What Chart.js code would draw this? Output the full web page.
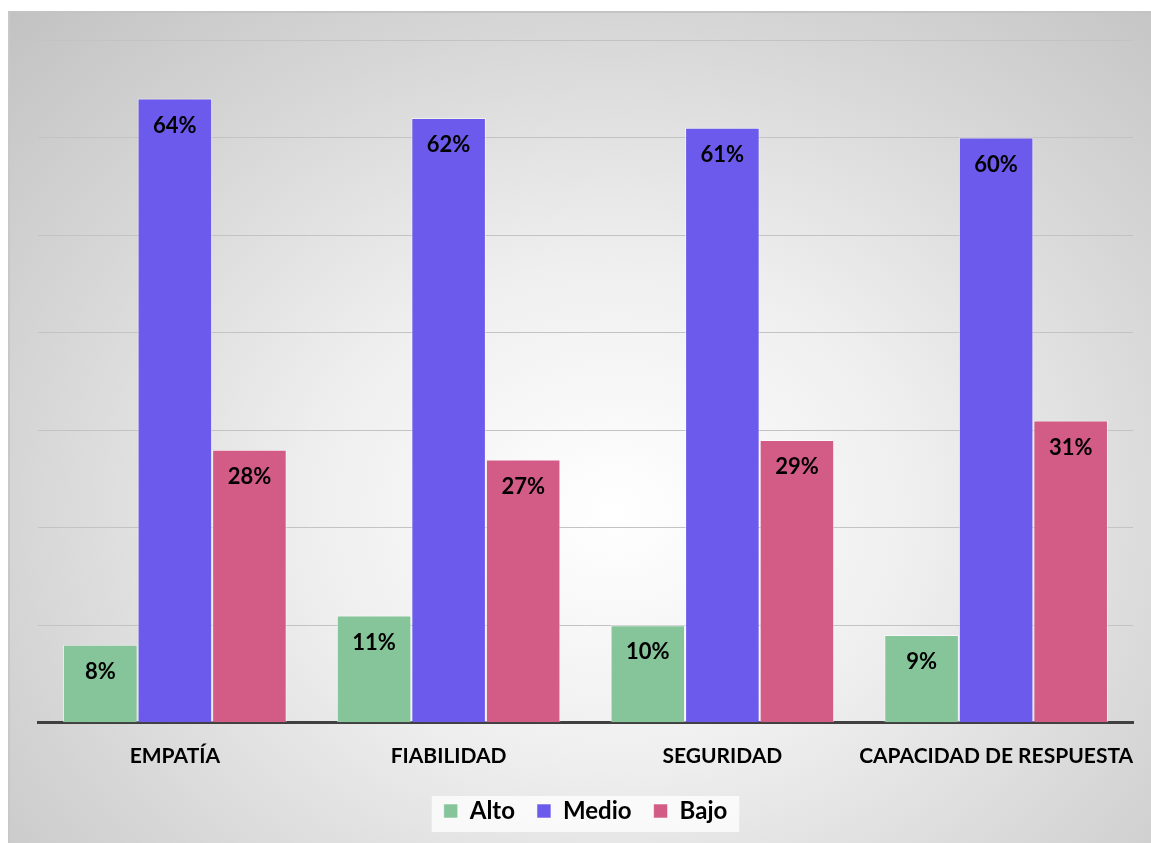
<!DOCTYPE html>
<html lang="es">
<head>
<meta charset="UTF-8">
<title>Dimensiones de calidad</title>
<script src="https://cdn.jsdelivr.net/npm/chart.js"></script>
<style>
    html, body { margin: 0; padding: 0; background: #ffffff; }
    #frame {
        position: absolute;
        left: 8px;
        top: 11px;
        width: 1143px;
        height: 832px;
        box-sizing: border-box;
        border-top: 2px solid #c4c4c4;
        border-left: 2px solid #c8c8c8;
        background: radial-gradient(ellipse farthest-corner at 53% 60%, #ffffff 0%, #efefef 35%, #d6d6d6 70%, #c2c2c2 100%);
    }
    #wrap { position: absolute; left: -2px; top: -2px; width: 1143px; height: 832px; }
</style>
</head>
<body>
<div id="frame">
    <div id="wrap"><canvas id="chart"></canvas></div>
</div>
<script>
    const categories = ['EMPATÍA', 'FIABILIDAD', 'SEGURIDAD', 'CAPACIDAD DE RESPUESTA'];
    const alto = [8, 11, 10, 9];
    const medio = [64, 62, 61, 60];
    const bajo = [28, 27, 29, 31];

    const FONT = 'Lato, "Open Sans", sans-serif';

    // percentage written inside the top of each bar
    const barLabels = {
        id: 'barLabels',
        afterDatasetsDraw(chart) {
            const ctx = chart.ctx;
            ctx.save();
            ctx.font = 'bold 22px ' + FONT;
            ctx.fillStyle = '#000000';
            ctx.textAlign = 'center';
            ctx.textBaseline = 'middle';
            chart.data.datasets.forEach((ds, i) => {
                chart.getDatasetMeta(i).data.forEach((bar, j) => {
                    ctx.fillText(ds.data[j] + '%', bar.x, bar.y + 27);
                });
            });
            ctx.restore();
        }
    };

    // white panel behind the legend
    const legendPanel = {
        id: 'legendPanel',
        beforeDraw(chart) {
            const boxes = chart.legend && chart.legend.legendHitBoxes;
            if (!boxes || !boxes.length) return;
            const left = Math.min(...boxes.map(b => b.left)) - 12;
            const right = Math.max(...boxes.map(b => b.left + b.width)) + 12;
            const top = boxes[0].top - 3;
            const ctx = chart.ctx;
            ctx.save();
            ctx.fillStyle = 'rgba(255,255,255,0.75)';
            ctx.fillRect(left, top, right - left, 36);
            ctx.restore();
        }
    };

    const ctx = document.getElementById('chart').getContext('2d');
    new Chart(ctx, {
        type: 'bar',
        data: {
            labels: categories,
            datasets: [
                { label: 'Alto', data: alto, backgroundColor: 'rgb(134,196,154)', borderColor: 'rgba(255,255,255,0.55)', borderWidth: 1 },
                { label: 'Medio', data: medio, backgroundColor: 'rgb(108,90,236)', borderColor: 'rgba(255,255,255,0.55)', borderWidth: 1 },
                { label: 'Bajo', data: bajo, backgroundColor: 'rgb(211,92,134)', borderColor: 'rgba(255,255,255,0.55)', borderWidth: 1 }
            ]
        },
        options: {
            responsive: true,
            maintainAspectRatio: false,
            animation: false,
            categoryPercentage: 0.817,
            barPercentage: 1.0,
            layout: { padding: { left: 30, right: 18, top: 29, bottom: 10 } },
            scales: {
                x: {
                    grid: { display: false, drawTicks: false },
                    border: { display: true, color: '#404040', width: 3 },
                    ticks: {
                        color: '#000000',
                        padding: 21,
                        maxRotation: 0,
                        minRotation: 0,
                        autoSkip: false,
                        font: { family: FONT, size: 21, weight: 'bold' }
                    },
                    // tighten the band under the axis and let the long last label overhang
                    afterFit(scale) {
                        scale.height -= 13;
                        scale.paddingLeft = 0;
                        scale.paddingRight = 0;
                    }
                },
                y: {
                    min: 0,
                    max: 70,
                    ticks: { stepSize: 10, display: false },
                    grid: { color: '#c3c3c3', lineWidth: 1, drawTicks: false },
                    border: { display: false }
                }
            },
            plugins: {
                legend: {
                    position: 'bottom',
                    labels: {
                        color: '#000000',
                        boxWidth: 14,
                        boxHeight: 14,
                        padding: 22,
                        font: { family: FONT, size: 24, weight: 'bold' }
                    }
                },
                tooltip: { enabled: false }
            }
        },
        plugins: [legendPanel, barLabels]
    });
</script>
</body>
</html>
